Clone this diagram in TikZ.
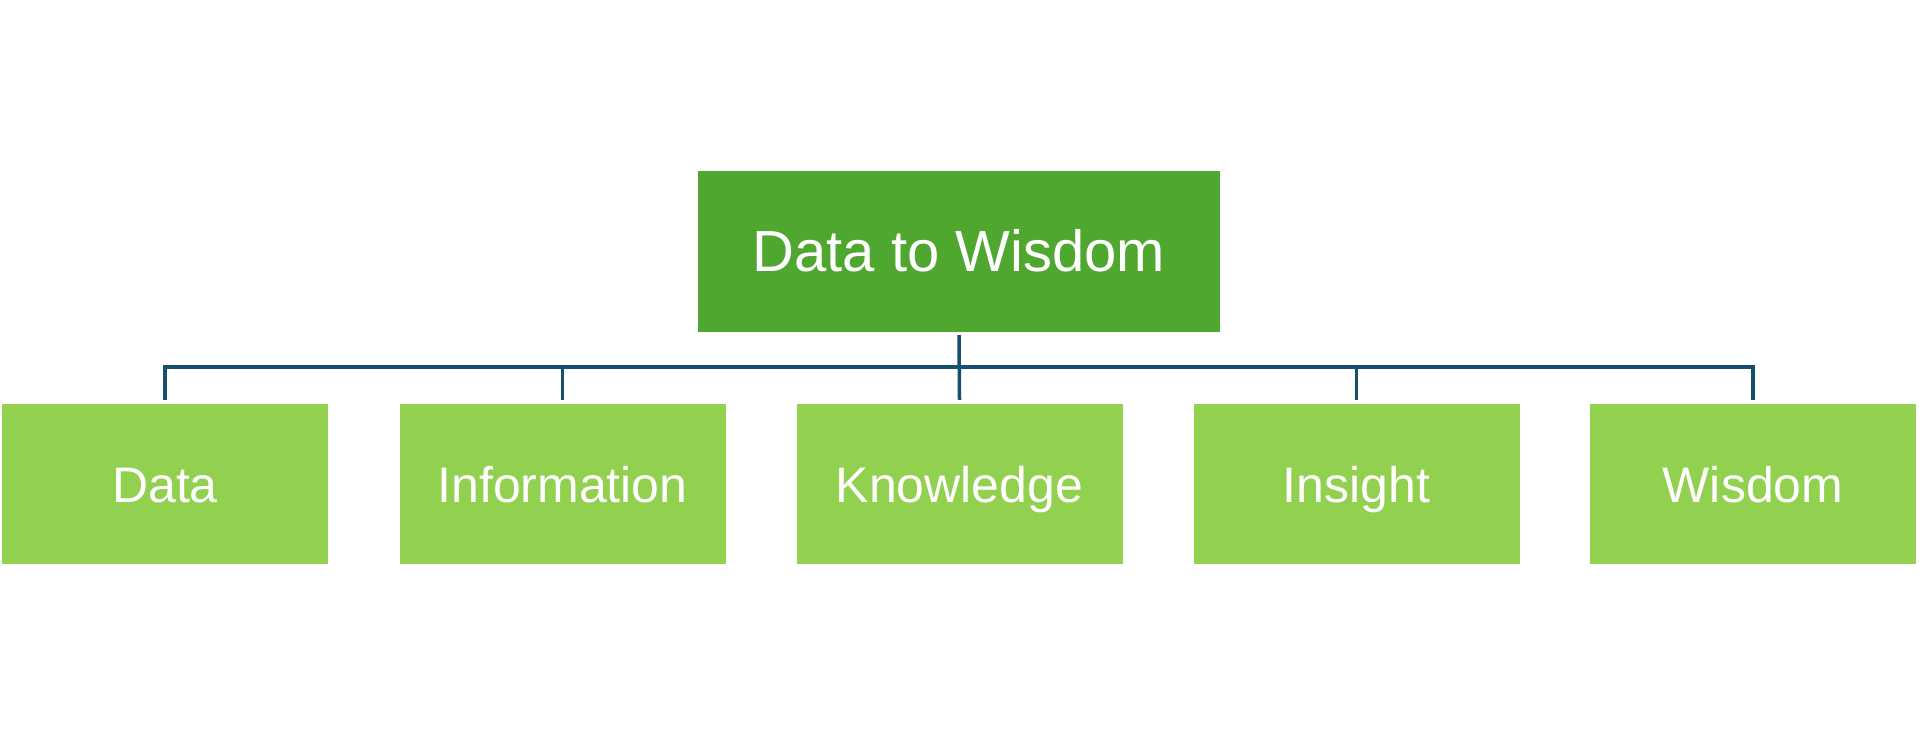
\documentclass[tikz,border=0pt]{standalone}
\usepackage{fontspec}
\setmainfont{Liberation Sans}
\definecolor{topgreen}{HTML}{4FA72F}
\definecolor{lightgreen}{HTML}{92D050}
\definecolor{linkblue}{HTML}{174F6E}
\begin{document}
\begin{tikzpicture}[x=1pt,y=-1pt,
  topbox/.style={fill=topgreen, draw=none, minimum width=522pt, minimum height=161pt, inner sep=0pt, text height=41pt, text depth=0pt, text=white, font=\fontsize{58}{70}\selectfont},
  subbox/.style={fill=lightgreen, draw=none, minimum width=326pt, minimum height=160pt, inner sep=0pt, text height=36pt, text depth=0pt, text=white, font=\fontsize{50}{60}\selectfont},
  link/.style={draw=linkblue, line width=3.5pt}]
\useasboundingbox (0,0) rectangle (1919,735);
\node[topbox] (top) at (959,251.5) {Data to Wisdom};
\node[subbox] (d) at (165,484) {Data};
\node[subbox] (i) at (562.5,484) {Information};
\node[subbox] (k) at (959.5,484) {Knowledge};
\node[subbox] (n) at (1356.5,484) {Insight};
\node[subbox] (w) at (1753,484) {Wisdom};
\draw[link] ([yshift=4pt]d.north) -- ([yshift=37pt]d.north) -- ([yshift=37pt]w.north) -- ([yshift=4pt]w.north);
\draw[link] ([yshift=4pt]i.north) -- ([yshift=37pt]i.north);
\draw[link] ([yshift=4pt]n.north) -- ([yshift=37pt]n.north);
\draw[link] ([yshift=-3pt]top.south) -- ([yshift=4pt]k.north);
\end{tikzpicture}
\end{document}
